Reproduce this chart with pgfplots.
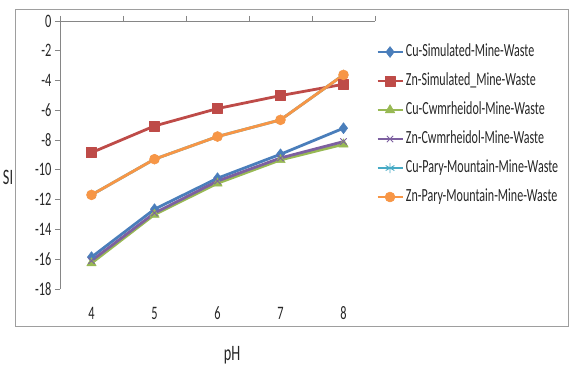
\documentclass[border=0pt]{standalone}
\usepackage{pgfplots}
\pgfplotsset{compat=1.18}
\usepackage{fontspec}
\setmainfont{Carlito}[FakeStretch=0.65]
\definecolor{cblue}{HTML}{4A7EBB}
\definecolor{cred}{HTML}{BE4B48}
\definecolor{cgreen}{HTML}{98B954}
\definecolor{cpurple}{HTML}{7D60A0}
\definecolor{cteal}{HTML}{46AAC5}
\definecolor{corange}{HTML}{F79646}
\definecolor{axgray}{HTML}{868686}
\definecolor{txt}{HTML}{262626}
\begin{document}
\begin{tikzpicture}
\useasboundingbox (-60pt,-78pt) rectangle (511pt,289pt);
\draw[axgray!80, line width=0.8pt] (-45pt,-37pt) rectangle (508pt,280pt);
\begin{axis}[
  name=main, scale only axis, width=315pt, height=268pt,
  xmin=3.5, xmax=8.5, ymin=-18, ymax=0,
  axis x line*=top, axis y line*=left,
  axis line style={axgray, line width=0.8pt},
  xtick={3.5,4.5,...,8.5}, xticklabels={},
  ytick={-18,-16,...,0},
  tick align=outside, major tick length=5pt,
  tick style={axgray, line width=0.8pt},
  /pgf/number format/assume math mode=true,
  ticklabel style={font=\fontsize{19}{19}\selectfont, text=txt},
  ylabel={SI}, xlabel={pH},
  every axis y label/.style={at={(axis description cs:-0.165,0.418)}, anchor=center, font=\fontsize{22}{22}\selectfont, text=txt},
  every axis x label/.style={at={(axis description cs:0.546,-0.246)}, anchor=center, font=\fontsize{22}{22}\selectfont, text=txt},
  clip=false,
  legend style={at={(1.003,0.913)}, anchor=north west, draw=none, fill=none,
    font=\fontsize{18.5}{18.5}\selectfont, text=txt, row sep=14pt, inner sep=0pt,
    nodes={inner xsep=2pt, inner ysep=0pt, text height=12pt, text depth=3pt}},
  legend cell align=left,
  legend image code/.code={\draw[mark repeat=2,mark phase=2,#1] plot coordinates {(0pt,0pt) (12.5pt,0pt) (25pt,0pt)};},
  every axis plot/.append style={line width=2.8pt, line join=round},
]
\addplot[cblue, mark=diamond*, mark size=5.5pt, mark options={solid, line width=0.5pt}]
  coordinates {(4,-15.86) (5,-12.64) (6,-10.56) (7,-8.95) (8,-7.2)};
\addlegendentry{Cu-Simulated-Mine-Waste}
\addplot[cred, mark=square*, mark size=5pt, mark options={solid, line width=0.5pt}]
  coordinates {(4,-8.84) (5,-7.05) (6,-5.88) (7,-5.01) (8,-4.25)};
\addlegendentry{Zn-Simulated\_Mine-Waste}
\addplot[cgreen, mark=triangle*, mark size=5.5pt, mark options={solid, line width=0.5pt}]
  coordinates {(4,-16.26) (5,-13.0) (6,-10.9) (7,-9.33) (8,-8.28)};
\addlegendentry{Cu-Cwmrheidol-Mine-Waste}
\addplot[cpurple, mark=x, mark size=4.5pt, mark options={solid, line width=0.9pt}]
  coordinates {(4,-16.1) (5,-12.9) (6,-10.75) (7,-9.2) (8,-8.1)};
\addlegendentry{Zn-Cwmrheidol-Mine-Waste}
\addplot[cteal, mark=asterisk, mark size=5pt, mark options={solid, line width=0.9pt}]
  coordinates {(4,-11.68) (5,-9.28) (6,-7.76) (7,-6.64) (8,-3.62)};
\addlegendentry{Cu-Pary-Mountain-Mine-Waste}
\addplot[corange, mark=*, mark size=5pt, mark options={solid, line width=0.5pt}]
  coordinates {(4,-11.68) (5,-9.28) (6,-7.76) (7,-6.64) (8,-3.62)};
\addlegendentry{Zn-Pary-Mountain-Mine-Waste}
\end{axis}
\begin{axis}[
  scale only axis, width=315pt, height=268pt,
  xmin=3.5, xmax=8.5, ymin=0, ymax=1,
  axis x line*=bottom, axis y line=none,
  x axis line style={draw=none},
  major tick length=0pt,
  xtick={4,5,6,7,8},
  /pgf/number format/assume math mode=true,
  xticklabel style={font=\fontsize{19}{19}\selectfont, text=txt, anchor=center, yshift=-24pt},
]
\end{axis}
\end{tikzpicture}
\end{document}
